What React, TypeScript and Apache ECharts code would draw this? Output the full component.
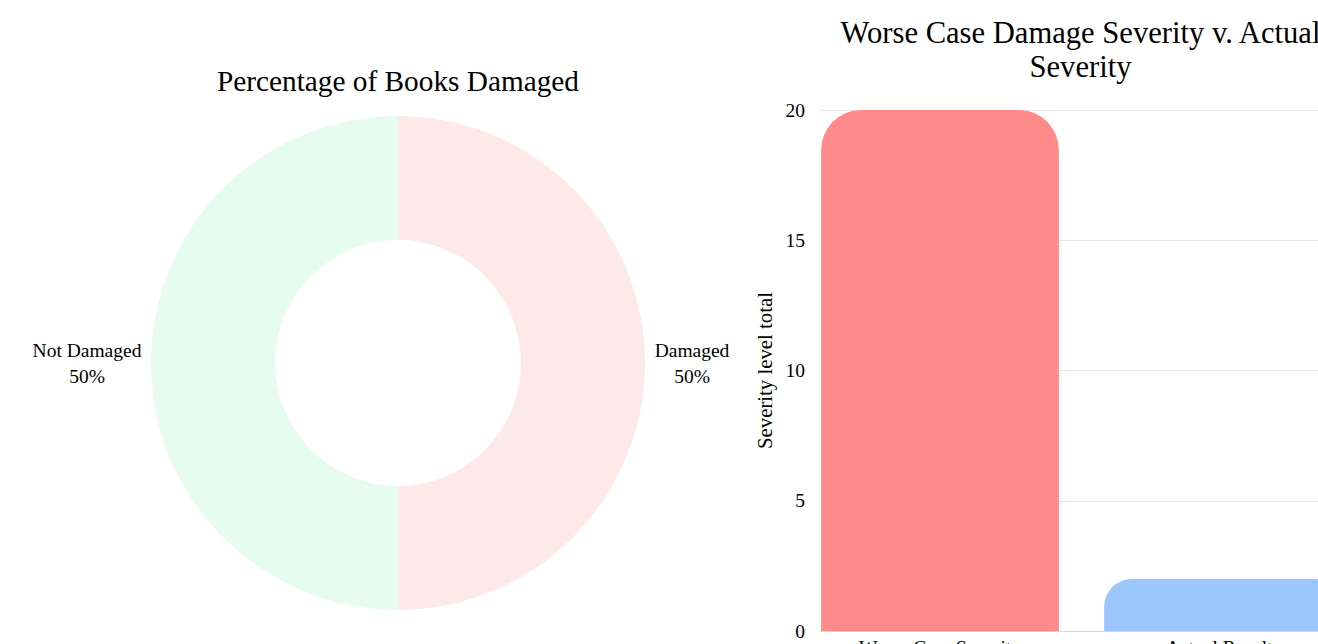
import React, { useEffect, useRef } from "react";
import * as echarts from "echarts";

const pieCategories = ["Damaged", "Not Damaged"];
const pieValues = [50, 50];
const pieTitle = "Percentage of Books Damaged";

const barCategories = ["Worse Case Severity", "Actual Results"];
const barValues = [20, 2];
const barTitle = "Worse Case Damage Severity v. Actual\nSeverity";
const yAxisName = "Severity level total";
const yMin = 0;
const yMax = 20;
const yInterval = 5;

const pieColors = ["#fdeae8", "#e6fcee"];
const barColors = ["#ff8a8a", "#9ac6fd"];
const barRadii = [40, 28];

const FONT = '"Liberation Serif", "Times New Roman", serif';

export default function App() {
  const ref = useRef<HTMLDivElement>(null);

  useEffect(() => {
    if (!ref.current) return;
    const chart = echarts.init(ref.current, undefined, { renderer: "svg" });

    const labelWidths: Record<string, number> = { Damaged: 76, "Not Damaged": 110 };

    chart.setOption({
      animation: false,
      backgroundColor: "#ffffff",
      textStyle: { fontFamily: FONT },
      graphic: [
        {
          type: "text",
          x: 398,
          y: 64,
          style: {
            text: pieTitle,
            fontFamily: FONT,
            fontSize: 29.3,
            lineHeight: 34,
            fill: "#000",
            align: "center",
            verticalAlign: "top",
          },
        },
        {
          type: "text",
          x: 1080.5,
          y: 16,
          style: {
            text: barTitle,
            fontFamily: FONT,
            fontSize: 30.6,
            lineHeight: 34,
            fill: "#000",
            align: "center",
            verticalAlign: "top",
          },
        },
      ],
      grid: [
        {
          left: 798.5,
          width: 566,
          top: 110,
          height: 521,
          containLabel: false,
          outerBoundsMode: "none",
        },
        {
          left: 821,
          width: 560,
          top: 110,
          height: 521,
          containLabel: false,
          outerBoundsMode: "none",
        },
      ],
      xAxis: [
        {
          gridIndex: 0,
          type: "category",
          data: barCategories,
          axisLine: { show: false },
          axisTick: { show: false },
          splitLine: { show: false },
          axisLabel: {
            color: "#000",
            fontFamily: FONT,
            fontSize: 19.5,
            margin: 6,
            interval: 0,
          },
        },
        {
          gridIndex: 1,
          type: "value",
          min: 0,
          max: 1,
          axisLine: { show: true, lineStyle: { color: "#d6d6d6", width: 1 } },
          axisTick: { show: false },
          axisLabel: { show: false },
          splitLine: { show: false },
        },
      ],
      yAxis: [
        {
          gridIndex: 0,
          type: "value",
          min: yMin,
          max: yMax,
          interval: yInterval,
          show: false,
          splitLine: { show: false },
        },
        {
          gridIndex: 1,
          type: "value",
          min: yMin,
          max: yMax,
          interval: yInterval,
          name: yAxisName,
          nameLocation: "middle",
          nameGap: 46,
          nameTextStyle: { color: "#000", fontFamily: FONT, fontSize: 20.8 },
          axisLine: { show: false },
          axisTick: { show: false },
          axisLabel: {
            color: "#000",
            fontFamily: FONT,
            fontSize: 19.5,
            margin: 16,
          },
          splitLine: { show: true, lineStyle: { color: "#e6e6e6", width: 1 } },
        },
      ],
      series: [
        {
          type: "pie",
          center: [398, 363],
          radius: [123, 247],
          startAngle: 90,
          clockwise: true,
          avoidLabelOverlap: false,
          silent: true,
          emphasis: { disabled: true },
          itemStyle: { borderWidth: 0 },
          labelLine: { show: false, length: 0, length2: 0 },
          label: {
            show: true,
            position: "outside",
            distanceToLabelLine: 9,
            color: "#000",
            fontFamily: FONT,
            fontSize: 19.5,
            lineHeight: 26,
            formatter: (p: any) => {
              const key = p.name === "Damaged" ? "d" : "n";
              return `{${key}|${p.name}}\n{${key}|${Math.round(p.percent)}%}`;
            },
            rich: {
              d: {
                width: labelWidths["Damaged"],
                align: "center",
                fontFamily: FONT,
                fontSize: 19.5,
                lineHeight: 26,
                color: "#000",
              },
              n: {
                width: labelWidths["Not Damaged"],
                align: "center",
                fontFamily: FONT,
                fontSize: 19.5,
                lineHeight: 26,
                color: "#000",
              },
            },
          },
          data: pieCategories.map((name, i) => ({
            name,
            value: pieValues[i],
            itemStyle: { color: pieColors[i] },
          })),
        },
        {
          type: "bar",
          xAxisIndex: 0,
          yAxisIndex: 0,
          barCategoryGap: "16%",
          silent: true,
          emphasis: { disabled: true },
          data: barValues.map((v, i) => ({
            value: v,
            itemStyle: {
              color: barColors[i],
              borderRadius: [barRadii[i], barRadii[i], 0, 0],
            },
          })),
        },
      ],
    });

    return () => {
      chart.dispose();
    };
  }, []);

  return (
    <div
      ref={ref}
      style={{
        position: "fixed",
        left: 0,
        top: 0,
        width: 1318,
        height: 644,
        overflow: "hidden",
      }}
    />
  );
}
